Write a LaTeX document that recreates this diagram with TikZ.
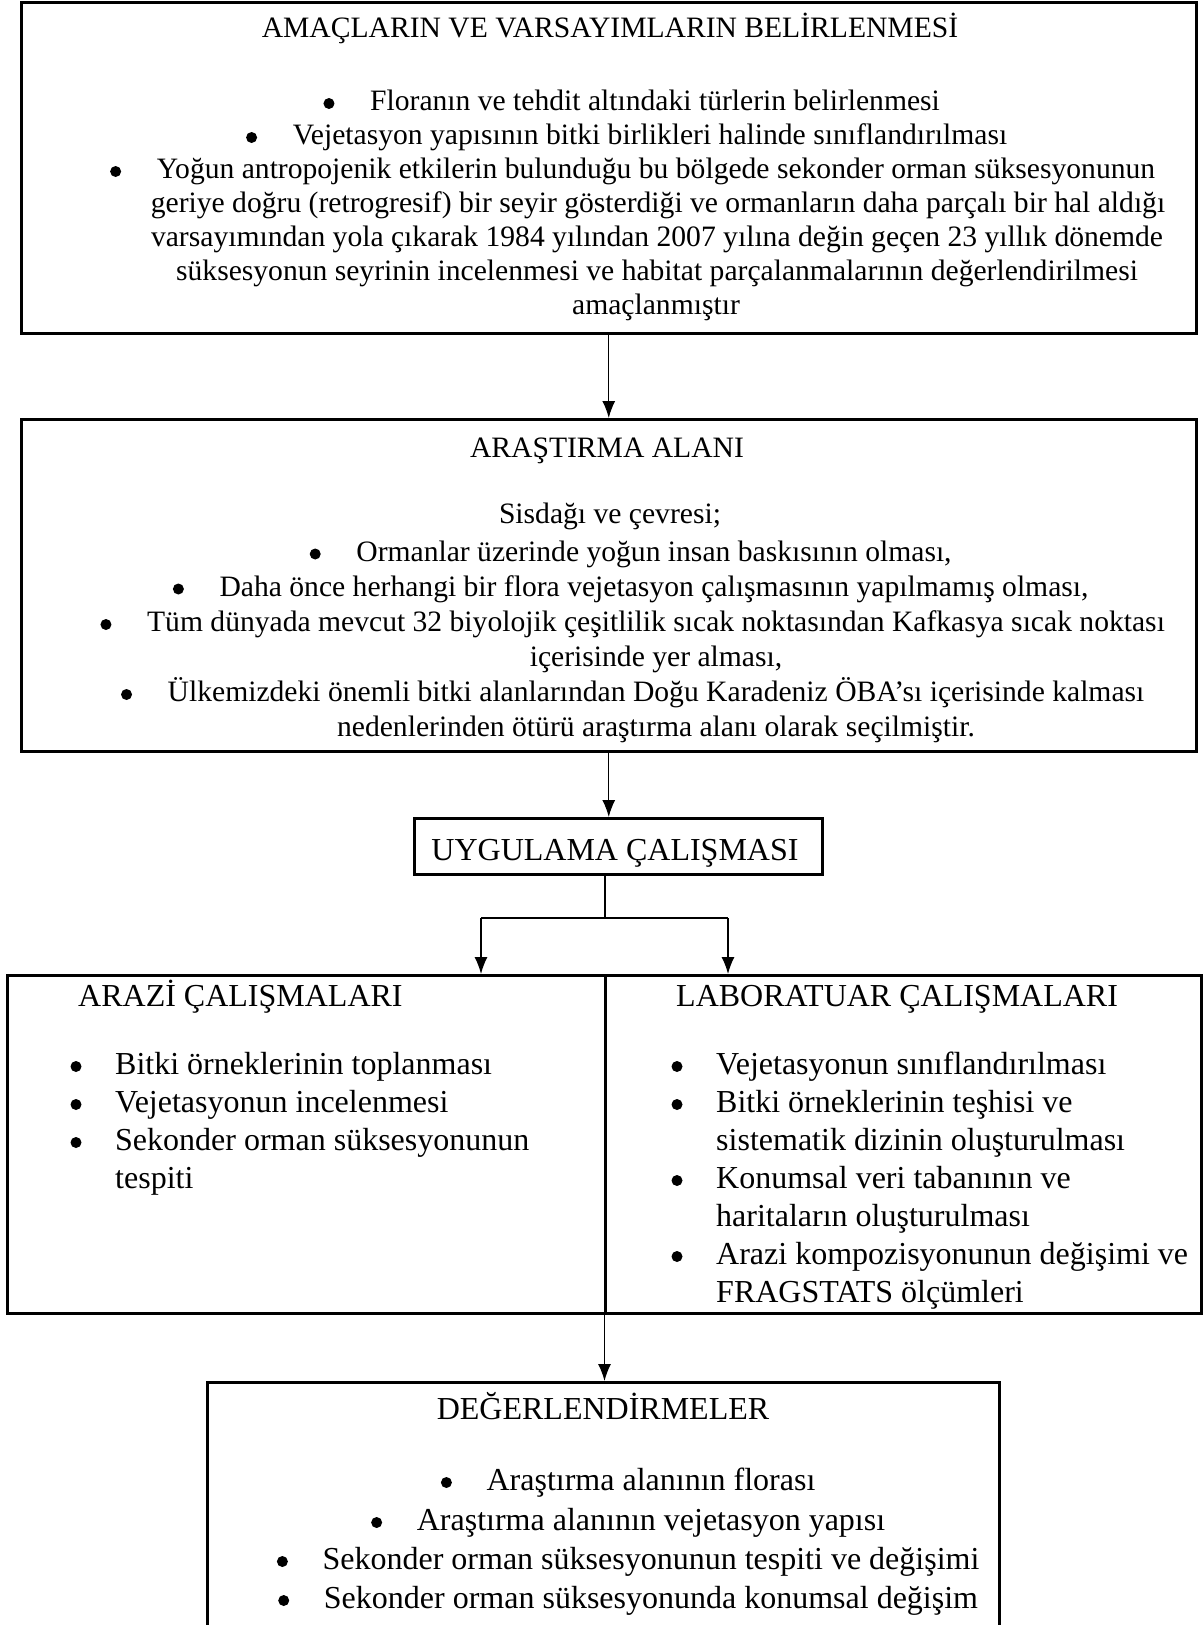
\documentclass[tikz,border=0pt]{standalone}
\usepackage{fontspec}
\setmainfont{Liberation Serif}
\usetikzlibrary{arrows.meta,positioning}

\begin{document}
\begin{tikzpicture}[x=1pt,y=-1pt,
  box/.style={draw,line width=2.5pt,inner sep=0pt,anchor=north west},
  txt/.style={inner sep=0pt,anchor=base,font=\fontsize{29.6}{34}\selectfont},
  big/.style={txt,font=\fontsize{32}{38}\selectfont},
  blt/.style={circle,fill,inner sep=0pt,minimum size=11pt},
  link/.style={line width=1.3pt,-{Latex[length=17pt,width=13pt]}}]
\clip (0,0) rectangle (1204,1625);
%kutular
\node[box,minimum width=1175pt,minimum height=331pt] (b1) at (20,1) {};
\node[box,minimum width=1175pt,minimum height=332pt] (b2) at (20,418) {};
\node[box,minimum width=408pt,minimum height=56pt] (b3) at (413,817) {};
\node[box,minimum width=598pt,minimum height=338pt] (b4l) at (6,974) {};
\node[box,minimum width=596pt,minimum height=338pt] (b4r) at (604,974) {};
\node[box,minimum width=792pt,minimum height=300pt] (b5) at (206,1381) {};
%amaclar
\node[txt] (t10) at (610,37) {AMAÇLARIN VE VARSAYIMLARIN BELİRLENMESİ};
\node[txt] (t11) at (655,110.5) {Floranın ve tehdit altındaki türlerin belirlenmesi};
\node[txt] (t12) at (650,144.5) {Vejetasyon yapısının bitki birlikleri halinde sınıflandırılması};
\node[txt] (t13) at (656,178.5) {Yoğun antropojenik etkilerin bulunduğu bu bölgede sekonder orman süksesyonunun};
\node[txt] (t14) at (658,212.5) {geriye doğru (retrogresif) bir seyir gösterdiği ve ormanların daha parçalı bir hal aldığı};
\node[txt] (t15) at (657,246.5) {varsayımından yola çıkarak 1984 yılından 2007 yılına değin geçen 23 yıllık dönemde};
\node[txt] (t16) at (657,280.5) {süksesyonun seyrinin incelenmesi ve habitat parçalanmalarının değerlendirilmesi};
\node[txt] (t17) at (656,314.5) {amaçlanmıştır};
\node[blt] (d11) at ([xshift=-41pt,yshift=7pt]t11.base west) {};
\node[blt] (d12) at ([xshift=-41pt,yshift=7pt]t12.base west) {};
\node[blt] (d13) at ([xshift=-41pt,yshift=7pt]t13.base west) {};
%alan
\node[txt] (t20) at (607,457.5) {ARAŞTIRMA ALANI};
\node[txt] (t21) at (610,523.5) {Sisdağı ve çevresi;};
\node[txt] (t22) at (654,561) {Ormanlar üzerinde yoğun insan baskısının olması,};
\node[txt] (t23) at (654,596) {Daha önce herhangi bir flora vejetasyon çalışmasının yapılmamış olması,};
\node[txt] (t24) at (656,631.5) {Tüm dünyada mevcut 32 biyolojik çeşitlilik sıcak noktasından Kafkasya sıcak noktası};
\node[txt] (t25) at (656,666.5) {içerisinde yer alması,};
\node[txt] (t26) at (656,701.5) {Ülkemizdeki önemli bitki alanlarından Doğu Karadeniz ÖBA’sı içerisinde kalması};
\node[txt] (t27) at (656,736.5) {nedenlerinden ötürü araştırma alanı olarak seçilmiştir.};
\node[blt] (d22) at ([xshift=-41pt,yshift=7pt]t22.base west) {};
\node[blt] (d23) at ([xshift=-41pt,yshift=7pt]t23.base west) {};
\node[blt] (d24) at ([xshift=-41pt,yshift=7pt]t24.base west) {};
\node[blt] (d26) at ([xshift=-41pt,yshift=7pt]t26.base west) {};
%uygulama
\node[big] (t30) at (615,860) {UYGULAMA ÇALIŞMASI};
%arazi
\node[big,anchor=base west] (t40) at (78,1006) {ARAZİ ÇALIŞMALARI};
\node[big,anchor=base west] (t41) at (115,1074) {Bitki örneklerinin toplanması};
\node[big,anchor=base west] (t42) at (115,1112) {Vejetasyonun incelenmesi};
\node[big,anchor=base west] (t43) at (115,1150) {Sekonder orman süksesyonunun};
\node[big,anchor=base west] (t44) at (115,1188) {tespiti};
\node[blt] (d41) at ([xshift=-39pt,yshift=7.5pt]t41.base west) {};
\node[blt] (d42) at ([xshift=-39pt,yshift=7.5pt]t42.base west) {};
\node[blt] (d43) at ([xshift=-39pt,yshift=7.5pt]t43.base west) {};
%laboratuar
\node[big,anchor=base west] (t50) at (676,1006) {LABORATUAR ÇALIŞMALARI};
\node[big,anchor=base west] (t51) at (716,1074) {Vejetasyonun sınıflandırılması};
\node[big,anchor=base west] (t52) at (716,1112) {Bitki örneklerinin teşhisi ve};
\node[big,anchor=base west] (t53) at (716,1150) {sistematik dizinin oluşturulması};
\node[big,anchor=base west] (t54) at (716,1188) {Konumsal veri tabanının ve};
\node[big,anchor=base west] (t55) at (716,1226) {haritaların oluşturulması};
\node[big,anchor=base west] (t56) at (716,1264) {Arazi kompozisyonunun değişimi ve};
\node[big,anchor=base west] (t57) at (716,1302) {FRAGSTATS ölçümleri};
\node[blt] (d51) at ([xshift=-39pt,yshift=7.5pt]t51.base west) {};
\node[blt] (d52) at ([xshift=-39pt,yshift=7.5pt]t52.base west) {};
\node[blt] (d54) at ([xshift=-39pt,yshift=7.5pt]t54.base west) {};
\node[blt] (d56) at ([xshift=-39pt,yshift=7.5pt]t56.base west) {};
%degerlendirmeler
\node[big] (t60) at (603,1419) {DEĞERLENDİRMELER};
\node[big] (t61) at (651,1490) {Araştırma alanının florası};
\node[big] (t62) at (651,1530) {Araştırma alanının vejetasyon yapısı};
\node[big] (t63) at (651,1569) {Sekonder orman süksesyonunun tespiti ve değişimi};
\node[big] (t64) at (651,1608) {Sekonder orman süksesyonunda konumsal değişim};
\node[blt] (d61) at ([xshift=-40pt,yshift=7.5pt]t61.base west) {};
\node[blt] (d62) at ([xshift=-40pt,yshift=7.5pt]t62.base west) {};
\node[blt] (d63) at ([xshift=-40pt,yshift=7.5pt]t63.base west) {};
\node[blt] (d64) at ([xshift=-40pt,yshift=7.5pt]t64.base west) {};
%oklar
\coordinate (fork) at (605,918);
\coordinate (forkL) at (481,918);
\coordinate (forkR) at (728,918);
\draw[link] (b1.south) -- (b2.north);
\draw[link] (b2.south) -- (b2.south |- b3.north);
\draw[line width=1.3pt] (fork |- b3.south) -- (fork);
\draw[line width=1.3pt] (forkL) -- (forkR);
\draw[link] (forkL) -- (forkL |- b4l.north);
\draw[link] (forkR) -- (forkR |- b4r.north);
\draw[link] ([xshift=-2pt]b4l.south east) -- ([xshift=-2pt]b4l.south east |- b5.north);
\end{tikzpicture}
\end{document}
